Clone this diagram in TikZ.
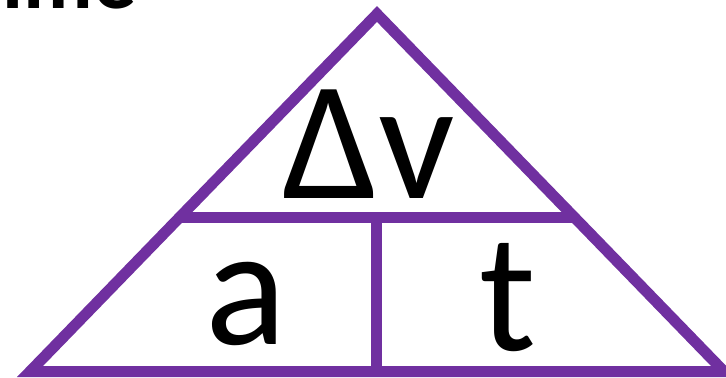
\documentclass[tikz,border=0pt]{standalone}
\usepackage{fontspec}
\setmainfont{Carlito}
\definecolor{trivio}{RGB}{112,48,160}

\begin{document}
\begin{tikzpicture}[
    x=1bp, y=-1bp,
    edge/.style={draw=trivio, line width=11bp, line join=miter},
    qty/.style={inner sep=0pt, anchor=base, font=\fontsize{170}{170}\selectfont},
    hdr/.style={inner sep=0pt, anchor=base east, font=\fontsize{86}{86}\selectfont\bfseries}
]
    \useasboundingbox (0,0) rectangle (726,377);
    \clip (0,0) rectangle (726,377);

    \coordinate (apex) at (377,14);
    \coordinate (bl) at (30,371.5);
    \coordinate (br) at (724,371.5);
    \coordinate (ml) at (179.5,217.5);
    \coordinate (mr) at (574.5,217.5);
    \coordinate (mtop) at (376,217.5);
    \coordinate (mbot) at (376,371.5);

    \node[hdr] (title) at (137,8) {Time};

    \draw[edge] (apex) -- (br) -- (bl) -- cycle;
    \draw[edge] (ml) -- (mr);
    \draw[edge] (mtop) -- (mbot);

    \node[qty] (dv) at (369,198) {Δv};
    \node[qty] (acc) at (246,344) {a};
    \node[qty] (time) at (508,350) {t};
\end{tikzpicture}
\end{document}
